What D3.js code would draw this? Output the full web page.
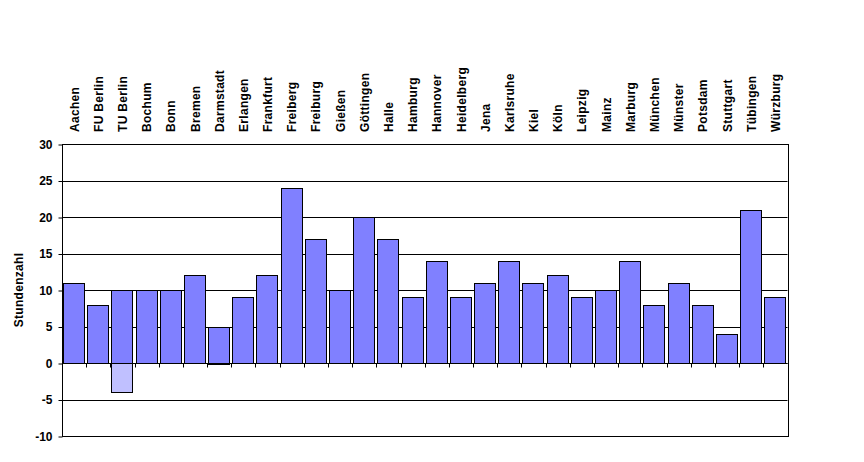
<!DOCTYPE html>
<html>
<head>
<meta charset="utf-8">
<script src="https://cdn.jsdelivr.net/npm/d3@7"></script>
<style>
  html, body { margin: 0; padding: 0; background: #fff; }
  svg { display: block; }
  text { font-family: "Liberation Sans", Arial, sans-serif; font-weight: bold; font-size: 12px; fill: #000; }
</style>
</head>
<body>
<svg id="chart" width="864" height="462"></svg>
<script>
const categories = ["Aachen","FU Berlin","TU Berlin","Bochum","Bonn","Bremen","Darmstadt","Erlangen","Frankfurt","Freiberg","Freiburg","Gießen","Göttingen","Halle","Hamburg","Hannover","Heidelberg","Jena","Karlsruhe","Kiel","Köln","Leipzig","Mainz","Marburg","München","Münster","Potsdam","Stuttgart","Tübingen","Würzburg"];
const hours = [11,8,10,10,10,12,5,9,12,24,17,10,20,17,9,14,9,11,14,11,12,9,10,14,8,11,8,4,21,9];
const negativeHours = [0,0,-4,0,0,0,0,0,0,0,0,0,0,0,0,0,0,0,0,0,0,0,0,0,0,0,0,0,0,0];
const yTicks = [-10,-5,0,5,10,15,20,25,30];
const yLabel = "Stundenzahl";

(function () {
const svg = d3.select("#chart");
const pLeft = 62, pRight = 787.5, pTop = 144, pBottom = 436;

const x = d3.scaleBand().domain(categories).range([pLeft, pRight]).paddingInner(0.08).paddingOuter(0.04);
const y = d3.scaleLinear().domain([-10, 30]).range([pBottom, pTop]);
const step = x.step();
const crisp = v => Math.round(v) + 0.5;

// gridlines
svg.append("g").selectAll("line").data(yTicks).join("line")
  .attr("x1", pLeft).attr("x2", pRight)
  .attr("y1", d => crisp(y(d))).attr("y2", d => crisp(y(d)))
  .attr("stroke", "#000").attr("stroke-width", 1);

// y axis
const yAxis = d3.axisLeft(y).tickValues(yTicks).tickSize(4).tickPadding(6).tickFormat(d => String(d));
const ga = svg.append("g").attr("transform", `translate(${crisp(pLeft)},0.5)`).call(yAxis);
ga.select(".domain").remove();
ga.selectAll("line").attr("stroke", "#000");
ga.selectAll("text").attr("font-size", 12).attr("font-family", "Liberation Sans, Arial, sans-serif").attr("font-weight", "bold").attr("fill", "#000");

// plot border
svg.append("rect").attr("x", crisp(pLeft)).attr("y", crisp(pTop))
  .attr("width", Math.round(pRight) - Math.round(pLeft)).attr("height", Math.round(pBottom) - Math.round(pTop))
  .attr("fill", "none").attr("stroke", "#000");

// bars
svg.append("g").selectAll("rect").data(categories).join("rect")
  .attr("x", d => Math.round(x(d)) + 0.5)
  .attr("width", Math.round(x.bandwidth()) - 1)
  .attr("y", (d, i) => crisp(y(Math.max(0, hours[i]))))
  .attr("height", (d, i) => Math.round(Math.abs(y(hours[i]) - y(0))))
  .attr("fill", "#8080ff").attr("stroke", "#000");

svg.append("g").selectAll("rect").data(categories.filter((c, i) => negativeHours[i] !== 0)).join("rect")
  .attr("x", d => Math.round(x(d)) + 0.5)
  .attr("width", Math.round(x.bandwidth()) - 1)
  .attr("y", d => crisp(y(0)))
  .attr("height", d => Math.round(Math.abs(y(negativeHours[categories.indexOf(d)]) - y(0))))
  .attr("fill", "#c0c0ff").attr("stroke", "#000");

// zero axis with category ticks
svg.append("line").attr("x1", pLeft).attr("x2", pRight)
  .attr("y1", crisp(y(0))).attr("y2", crisp(y(0))).attr("stroke", "#000");
const bounds = d3.range(categories.length + 1).map(i => pLeft + i * step);
svg.append("g").selectAll("line").data(bounds).join("line")
  .attr("x1", d => crisp(d)).attr("x2", d => crisp(d))
  .attr("y1", crisp(y(0))).attr("y2", crisp(y(0)) + 4)
  .attr("stroke", "#000");

// category labels (rotated, above plot)
svg.append("g").selectAll("text").data(categories).join("text")
  .attr("transform", d => `translate(${x(d) + x.bandwidth() / 2 + 4.5},132) rotate(-90)`)
  .attr("text-anchor", "start")
  .attr("letter-spacing", "0.3px")
  .text(d => d);

// y label
svg.append("text").attr("transform", "translate(23,290) rotate(-90)")
  .attr("text-anchor", "middle").attr("letter-spacing", "0.3px").text(yLabel);
})();
</script>
</body>
</html>
